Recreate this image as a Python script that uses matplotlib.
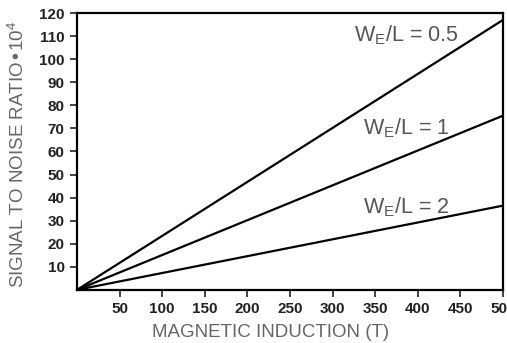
import matplotlib.pyplot as plt
import numpy as np

plt.rcParams["font.family"] = ["Liberation Sans", "DejaVu Sans"]

# magnetic induction range (T) and signal-to-noise at the end of each line
b_field = [0, 500]
snr_we05 = [0, 117]
snr_we1 = [0, 75.5]
snr_we2 = [0, 36.5]

labels = ["0.5", "1", "2"]
label_pos = [(325, 110.5), (336, 70), (336, 36)]

x_ticks = np.arange(50, 501, 50)
y_ticks = np.arange(10, 121, 10)

fig = plt.figure(figsize=(5.07, 3.43), dpi=100)
ax = fig.add_axes([0.152, 0.155, 0.840, 0.807])

for y in (snr_we05, snr_we1, snr_we2):
    ax.plot(b_field, y, color="black", linewidth=1.6, solid_capstyle="butt")

for lab, (lx, ly) in zip(labels, label_pos):
    ax.text(lx, ly, r"W$_\mathregular{E}$/L = " + lab, color="#555555",
            fontsize=15.5, va="center", ha="left")

ax.set_xlim(0, 500)
ax.set_ylim(0, 120)
ax.set_xticks(x_ticks)
ax.set_yticks(y_ticks)
ax.tick_params(direction="out", length=5, width=1.2, labelsize=11,
               colors="#222222", pad=4)
for t in ax.get_xticklabels() + ax.get_yticklabels():
    t.set_fontweight("bold")
for s in ax.spines.values():
    s.set_linewidth(1.6)

ax.set_ylabel("SIGNAL TO NOISE RATIO•10$^\\mathregular{4}$", color="#666666",
              fontsize=13.5)
ax.yaxis.set_label_coords(-0.115, 0.49)
ax.set_xlabel("MAGNETIC INDUCTION (T)", color="#666666", fontsize=13.5)
ax.xaxis.set_label_coords(0.455, -0.125)

fig.savefig("out.png", dpi=100)
